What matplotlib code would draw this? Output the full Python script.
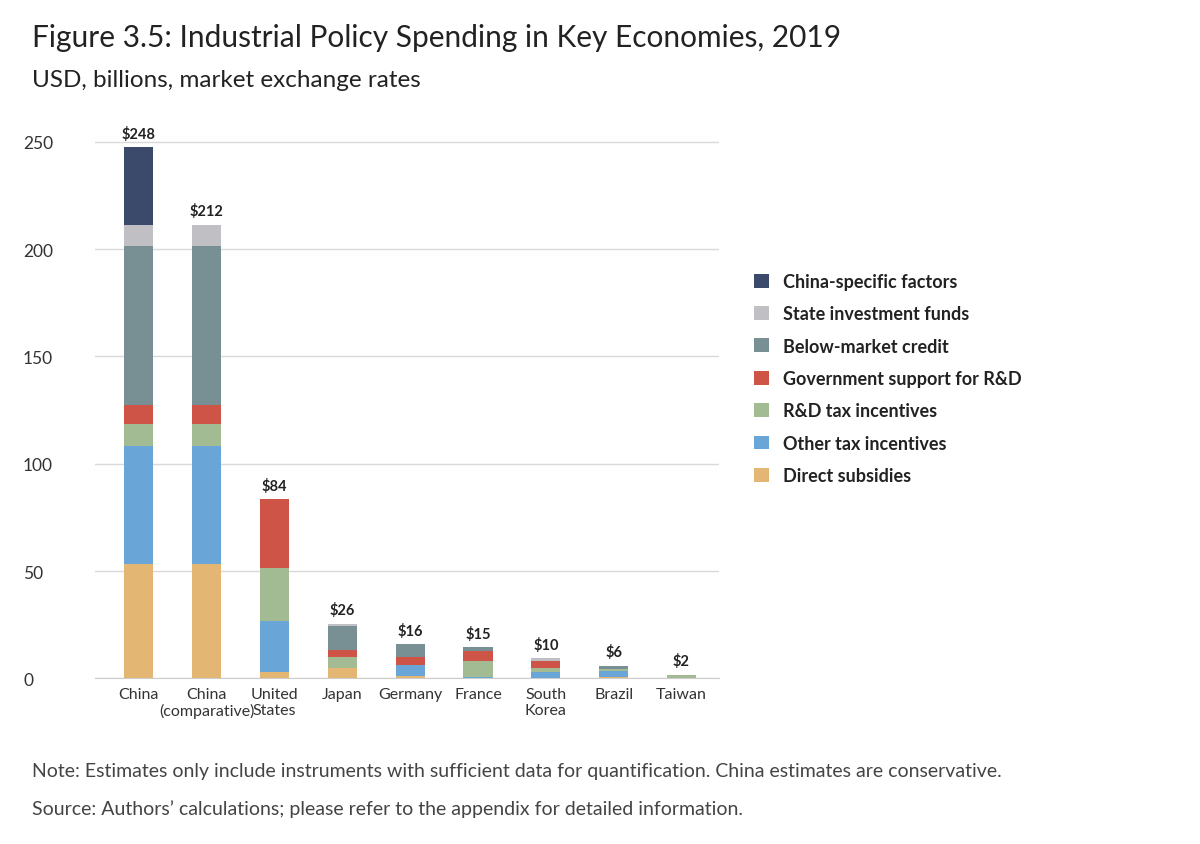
import matplotlib
matplotlib.use("Agg")
import matplotlib.pyplot as plt
import numpy as np

plt.rcParams['font.family'] = ['Lato', 'DejaVu Sans']

categories = ["China", "China\n(comparative)", "United\nStates", "Japan", "Germany", "France", "South\nKorea", "Brazil", "Taiwan"]
series_names = ["Direct subsidies", "Other tax incentives", "R&D tax incentives", "Government support for R&D",
                "Below-market credit", "State investment funds", "China-specific factors"]
colors = ["#e3b673", "#6aa5d8", "#a2bb93", "#cd5446", "#788f93", "#bfbfc4", "#3b4a6b"]
direct_subsidies = [53.4, 53.4, 2.8, 4.7, 1.1, 0.0, 0.3, 0.8, 0.0]
other_tax = [55, 55, 24, 0.0, 5.1, 0.5, 2.8, 2.6, 0.0]
rd_tax = [10, 10, 24.5, 5.1, 0.0, 7.6, 1.9, 1.0, 1.8]
gov_rd = [9, 9, 32.3, 3.2, 3.6, 4.7, 3.1, 0.0, 0.0]
below_credit = [74, 74, 0.0, 11.2, 6.1, 1.7, 0.0, 1.5, 0.0]
state_funds = [10, 10, 0.0, 1.2, 0.0, 0.0, 1.3, 0.0, 0.0]
china_specific = [36, 0.0, 0.0, 0.0, 0.0, 0.0, 0.0, 0.0, 0.0]
totals = ["$248", "$212", "$84", "$26", "$16", "$15", "$10", "$6", "$2"]

data = [direct_subsidies, other_tax, rd_tax, gov_rd, below_credit, state_funds, china_specific]

fig = plt.figure(figsize=(12, 8.45), dpi=100)
ax = fig.add_axes([0.079, 0.196, 0.52, 0.64])
x = np.arange(len(categories))
bottom = np.zeros(len(categories))
handles = []
for vals, name, c in zip(data, series_names, colors):
    h = ax.bar(x, vals, 0.43, bottom=bottom, color=c, label=name, zorder=3)
    handles.append(h)
    bottom += np.array(vals)
for xi, tot, lab in zip(x, bottom, totals):
    ax.text(xi, tot + 3, lab, ha='center', va='bottom', fontsize=10.5, fontweight='bold', color='#222222')

ax.set_xlim(-0.65, len(categories) - 0.45)
ax.set_ylim(0, 252)
ax.set_yticks([0, 50, 100, 150, 200, 250])
ax.yaxis.grid(True, color='#d9d9d9', lw=1, zorder=0)
for s in ['left', 'right', 'top']:
    ax.spines[s].set_visible(False)
ax.spines['bottom'].set_color('#cccccc')
ax.tick_params(axis='y', length=0, labelsize=12.5, colors='#333333', pad=18)
ax.tick_params(axis='x', length=0, labelsize=11.5, colors='#333333', pad=6)
ax.set_xticks(x)
ax.set_xticklabels(categories)
for t in ax.get_yticklabels():
    t.set_horizontalalignment('left')
    t.set_x(-0.075)

leg = fig.legend(handles[::-1], series_names[::-1], loc='upper left', bbox_to_anchor=(0.615, 0.695),
                 frameon=False, handlelength=0.8, handleheight=0.8, labelspacing=0.85,
                 handletextpad=0.8, prop={'weight': 'bold', 'size': 13})
for t in leg.get_texts():
    t.set_color('#222222')

fig.text(0.027, 0.955, "Figure 3.5: Industrial Policy Spending in Key Economies, 2019", fontsize=21.5, color='#222222', va='center')
fig.text(0.027, 0.905, "USD, billions, market exchange rates", fontsize=17.5, color='#222222', va='center')
fig.text(0.027, 0.087, "Note: Estimates only include instruments with sufficient data for quantification. China estimates are conservative.",
         fontsize=14, color='#444444', va='center')
fig.text(0.027, 0.043, "Source: Authors\u2019 calculations; please refer to the appendix for detailed information.",
         fontsize=14, color='#444444', va='center')

fig.savefig("out.png", dpi=100)
